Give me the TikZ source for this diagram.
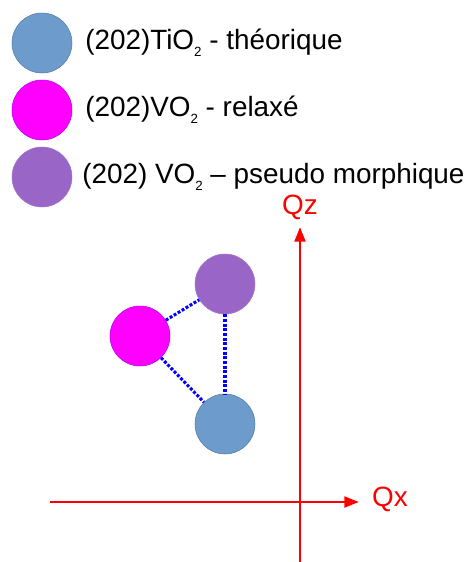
\documentclass[tikz,border=0pt]{standalone}
\usepackage{fontspec}
\setmainfont{Liberation Sans}
\usetikzlibrary{arrows.meta}
\definecolor{tiblue}{HTML}{6C9BCC}
\definecolor{vomagenta}{HTML}{FF00FF}
\definecolor{vopurple}{HTML}{9966C8}
\definecolor{axisred}{HTML}{FF0000}
\definecolor{linkblue}{HTML}{0000FF}
\newcommand{\lowtwo}{\raisebox{-5pt}{\fontsize{10}{10}\selectfont 2}}
\begin{document}
\begin{tikzpicture}[x=0.75pt,y=-0.75pt,
      spot/.style={circle,minimum size=45pt,inner sep=0pt,line width=0.4pt},
      legend/.style={anchor=west,inner sep=0pt,font=\fontsize{20.9}{25}\selectfont},
      axislabel/.style={inner sep=0pt,text=axisred,font=\fontsize{20.9}{25}\selectfont},
      axis/.style={draw=axisred,line width=2.2pt,-{Triangle[length=11pt,width=8pt]}},
      link/.style={draw=linkblue,line width=2.3pt,dash pattern=on 2.2pt off 1.3pt}]
    \useasboundingbox (0,0) rectangle (467,562);
    % legend
    \node[spot,fill=tiblue,draw=tiblue!80!black]     (keyti)  at (42,43)  {};
    \node[spot,fill=vomagenta,draw=vomagenta!70!blue] (keyrel) at (42,110) {};
    \node[spot,fill=vopurple,draw=vopurple!90!white]  (keyps)  at (42,177) {};
    \node[legend] (txtti)  at (85,43)  {(202)TiO\lowtwo\ - théorique};
    \node[legend] (txtrel) at (85,110) {(202)VO\lowtwo\ - relaxé};
    \node[legend] (txtps)  at (82,177) {(202) VO\lowtwo\ – pseudo morphique};
    % axes
    \coordinate (xbeg) at (50,502);
    \coordinate (xend) at (359,502);
    \coordinate (zbeg) at (300,562);
    \coordinate (zend) at (300,227);
    \draw[axis] (xbeg) -- (xend);
    \draw[axis] (zbeg) -- (zend);
    \node[axislabel] (qz) at (300,207) {Qz};
    \node[axislabel] (qx) at (390,499) {Qx};
    % peaks
    \node[spot,fill=vopurple,draw=vopurple!90!white]  (pseudo)  at (225,284) {};
    \node[spot,fill=vomagenta,draw=vomagenta!70!blue] (relaxed) at (140,336) {};
    \node[spot,fill=tiblue,draw=tiblue!80!black]     (theory)  at (225,424) {};
    \draw[link] (relaxed) -- (pseudo);
    \draw[link] (pseudo) -- (theory);
    \draw[link] (relaxed) -- (theory);
  \end{tikzpicture}
\end{document}
